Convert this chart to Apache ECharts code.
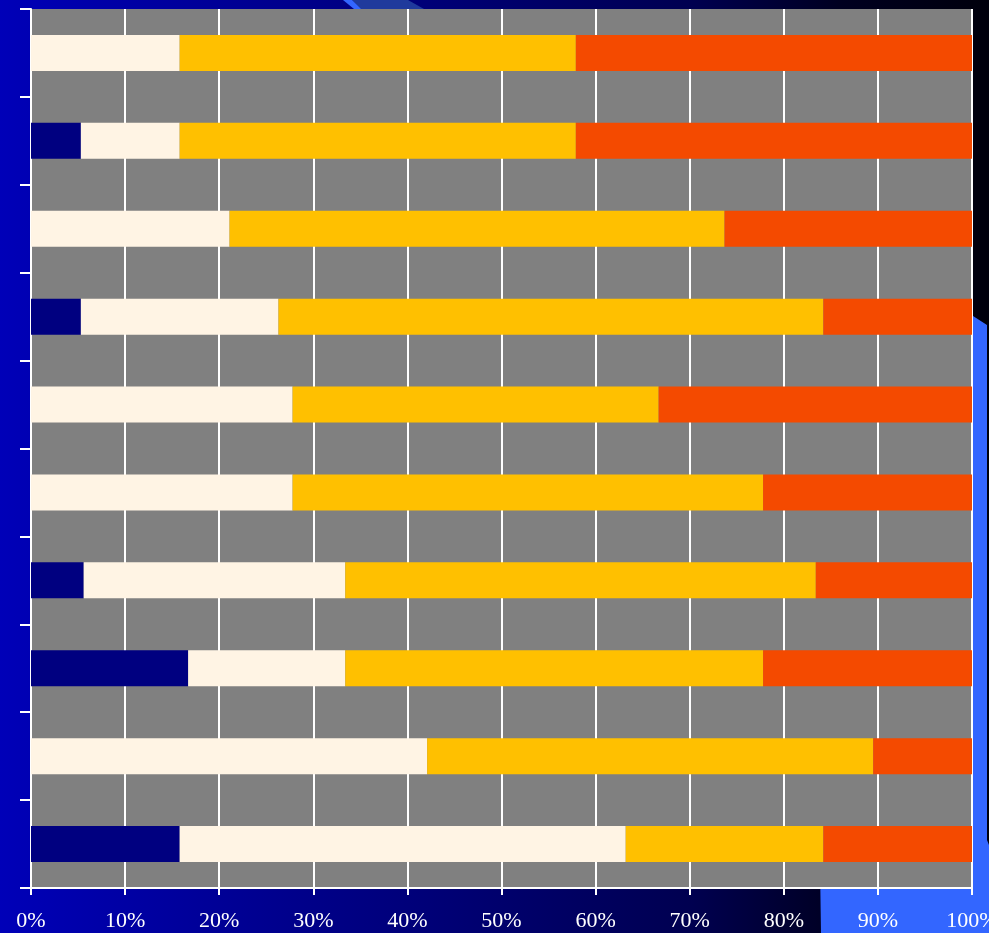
<!DOCTYPE html>
<html>
<head>
<meta charset="utf-8">
<script src="https://cdn.jsdelivr.net/npm/echarts@6/dist/echarts.min.js"></script>
<style>
  html, body { margin: 0; padding: 0; }
  #main { width: 989px; height: 933px; }
</style>
</head>
<body>
<div id="main"></div>
<script>
// rows from top to bottom, values in percent of the row
var categories = ['1', '2', '3', '4', '5', '6', '7', '8', '9', '10'];
var seriesNavy  = [0,    5.3,  0,    5.3,  0,    0,    5.6,  16.7, 0,    15.8];
var seriesCream = [15.8, 10.5, 21.1, 21.0, 27.8, 27.8, 27.8, 16.7, 42.1, 47.4];
var seriesGold  = [42.1, 42.1, 52.6, 57.9, 38.9, 50.0, 50.0, 44.4, 47.4, 21.0];
var seriesRed   = [42.1, 42.1, 26.3, 15.8, 33.3, 22.2, 16.6, 22.2, 10.5, 15.8];
var xTicks = [0, 10, 20, 30, 40, 50, 60, 70, 80, 90, 100];

var myChart = echarts.init(document.getElementById('main'));

function bar(name, data, color) {
	return {
		name: name,
		type: 'bar',
		stack: 'total',
		barWidth: 36,
		data: data,
		itemStyle: { color: color },
		silent: true
	};
}

var option = {
	animation: false,
	backgroundColor: {
		type: 'linear', x: 0, y: 0, x2: 1, y2: 0,
		colorStops: [
			{ offset: 0, color: '#0000b8' },
			{ offset: 0.1, color: '#0000a8' },
			{ offset: 0.4, color: '#00007c' },
			{ offset: 0.7, color: '#000050' },
			{ offset: 0.85, color: '#000020' },
			{ offset: 1, color: '#00000c' }
		]
	},
	graphic: [
		{
			type: 'polygon', z: -10, silent: true,
			shape: { points: [[352, 0], [408, 0], [424, 9], [360, 9]] },
			style: { fill: '#1f3a9c' }
		},
		{
			type: 'polygon', z: -10, silent: true,
			shape: { points: [[343, 0], [352, 0], [361, 9], [354, 9]] },
			style: { fill: '#3366ff' }
		},
		{
			type: 'polygon', z: -10, silent: true,
			shape: { points: [[812, 320], [973, 316], [987, 325], [987, 840], [989, 845], [989, 933], [821, 933]] },
			style: { fill: '#3366ff' }
		}
	],
	grid: {
		left: 31,
		right: 17,
		top: 9,
		bottom: 45,
		outerBoundsMode: 'none',
		containLabel: false,
		show: true,
		backgroundColor: '#808080',
		borderWidth: 0
	},
	xAxis: {
		type: 'value',
		min: xTicks[0],
		max: xTicks[xTicks.length - 1],
		interval: 10,
		axisLine: { show: true, lineStyle: { color: '#ffffff', width: 2 } },
		axisTick: { show: true, length: 7, lineStyle: { color: '#ffffff', width: 2 } },
		splitLine: { show: true, lineStyle: { color: '#ffffff', width: 2 } },
		axisLabel: {
			color: '#ffffff',
			fontFamily: 'Liberation Serif',
			fontSize: 22,
			margin: 22,
			formatter: '{value}%'
		}
	},
	yAxis: {
		type: 'category',
		inverse: true,
		data: categories,
		axisLine: { show: true, lineStyle: { color: '#ffffff', width: 2 } },
		axisTick: { show: true, length: 11, lineStyle: { color: '#ffffff', width: 2 } },
		axisLabel: { show: false },
		splitLine: { show: false }
	},
	series: [
		bar('A', seriesNavy, '#000080'),
		bar('B', seriesCream, '#fff4e4'),
		bar('C', seriesGold, '#ffc000'),
		bar('D', seriesRed, '#f44a00')
	]
};

myChart.setOption(option);
</script>
</body>
</html>
